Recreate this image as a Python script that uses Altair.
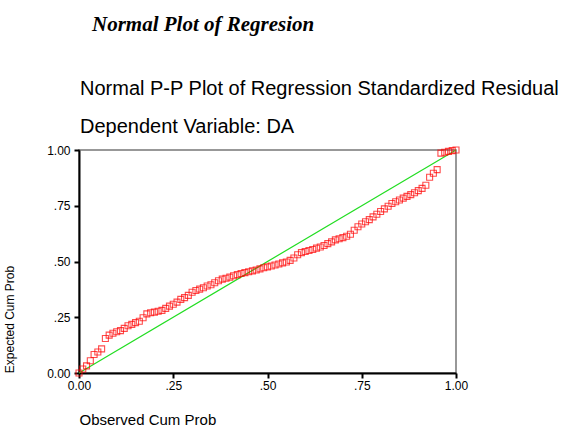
import altair as alt
import pandas as pd

# Observed cumulative probability (x) and expected cumulative probability (y)
observed = [
    0.00, 0.01, 0.02, 0.03, 0.04, 0.05, 0.06, 0.07, 0.08, 0.09,
    0.10, 0.11, 0.12, 0.13, 0.14, 0.15, 0.16, 0.17, 0.18, 0.19,
    0.20, 0.21, 0.22, 0.23, 0.24, 0.25, 0.26, 0.27, 0.28, 0.29,
    0.30, 0.31, 0.32, 0.33, 0.34, 0.35, 0.36, 0.37, 0.38, 0.39,
    0.40, 0.41, 0.42, 0.43, 0.44, 0.45, 0.46, 0.47, 0.48, 0.49,
    0.50, 0.51, 0.52, 0.53, 0.54, 0.55, 0.56, 0.57, 0.58, 0.59,
    0.60, 0.61, 0.62, 0.63, 0.64, 0.65, 0.66, 0.67, 0.68, 0.69,
    0.70, 0.71, 0.72, 0.73, 0.74, 0.75, 0.76, 0.77, 0.78, 0.79,
    0.80, 0.81, 0.82, 0.83, 0.84, 0.85, 0.86, 0.87, 0.88, 0.89,
    0.90, 0.91, 0.92, 0.93, 0.94, 0.95, 0.96, 0.97, 0.98, 0.99,
    1.00,
]
expected = [
    0.000, 0.018, 0.032, 0.055, 0.083, 0.094, 0.108, 0.155, 0.170, 0.178,
    0.185, 0.190, 0.200, 0.212, 0.218, 0.226, 0.232, 0.248, 0.265, 0.270,
    0.273, 0.277, 0.281, 0.290, 0.300, 0.308, 0.318, 0.330, 0.338, 0.348,
    0.362, 0.370, 0.376, 0.382, 0.390, 0.396, 0.405, 0.414, 0.421, 0.425,
    0.430, 0.436, 0.441, 0.446, 0.450, 0.454, 0.458, 0.462, 0.467, 0.472,
    0.476, 0.480, 0.484, 0.489, 0.494, 0.498, 0.505, 0.516, 0.530, 0.540,
    0.545, 0.549, 0.554, 0.560, 0.565, 0.572, 0.580, 0.588, 0.597, 0.602,
    0.607, 0.613, 0.622, 0.640, 0.656, 0.668, 0.678, 0.688, 0.700, 0.712,
    0.724, 0.736, 0.748, 0.760, 0.768, 0.776, 0.784, 0.792, 0.800, 0.808,
    0.818, 0.828, 0.842, 0.878, 0.896, 0.912, 0.986, 0.990, 0.994, 0.997,
    1.000,
]
diagonal = [0.0, 1.0]

heading_text = ["Normal Plot of Regresion"]
title_lines = ["Normal P-P Plot of Regression Standardized Residual", "Dependent Variable: DA"]

points = pd.DataFrame({"obs": observed, "exp": expected})
ref = pd.DataFrame({"obs": diagonal, "exp": diagonal})

label_expr = (
    "datum.value == 0 ? '0.00' : datum.value == 1 ? '1.00' : "
    "replace(format(datum.value, '.2f'), '0.', '.')"
)
ticks = [0, 0.25, 0.5, 0.75, 1]
sans = "Liberation Sans"

common_axis = dict(
    values=ticks, labelExpr=label_expr, grid=False, labelFlush=False,
    domainColor="black", domainWidth=2, tickColor="black", tickWidth=2,
    tickSize=5, labelFont=sans, labelFontSize=12, labelColor="black",
    titleColor="black", titleFont=sans, titleFontWeight="normal",
)

x_enc = alt.X(
    "obs:Q",
    scale=alt.Scale(domain=[0, 1], nice=False),
    axis=alt.Axis(
        title="Observed Cum Prob", titleAnchor="start", titleAlign="left",
        titleX=0, titleY=46, titleBaseline="middle", titleFontSize=15,
        labelPadding=2, **common_axis,
    ),
)
y_enc = alt.Y(
    "exp:Q",
    scale=alt.Scale(domain=[0, 1], nice=False),
    axis=alt.Axis(
        title="Expected Cum Prob", titleAngle=270, titleAlign="center",
        titleBaseline="middle", titleX=-70, titleY=169, titleFontSize=12,
        labelPadding=4, **common_axis,
    ),
)

line = alt.Chart(ref).mark_line(color="#22dd22", strokeWidth=1.2).encode(
    x=x_enc, y=y_enc
)
dots = alt.Chart(points).mark_point(
    shape="square", filled=False, color="#ff0000", size=36, strokeWidth=1.1
).encode(x="obs:Q", y="exp:Q")

heading = alt.Chart(pd.DataFrame({"t": heading_text})).mark_text(
    font="Liberation Serif", fontSize=21, fontWeight="bold", fontStyle="italic",
    align="left", baseline="middle", color="black",
).encode(x=alt.value(13), y=alt.value(-125), text="t:N")

plot_title = alt.Chart(pd.DataFrame({"t": title_lines[:1]})).mark_text(
    font=sans, fontSize=20, align="left", baseline="alphabetic", color="black",
).encode(x=alt.value(1), y=alt.value(-55), text="t:N")

plot_subtitle = alt.Chart(pd.DataFrame({"t": title_lines[1:]})).mark_text(
    font=sans, fontSize=20, align="left", baseline="alphabetic", color="black",
).encode(x=alt.value(1), y=alt.value(-17), text="t:N")

chart = (
    alt.layer(line, dots, heading, plot_title, plot_subtitle)
    .properties(
        width=377,
        height=223,
        padding={"left": 79, "top": 150, "right": 114, "bottom": 53},
        autosize=alt.AutoSizeParams(type="none"),
        background="white",
    )
    .configure_view(stroke="#777777", strokeWidth=1.5)
)

chart.save("out.html", embed_options={"renderer": "svg", "actions": False})
